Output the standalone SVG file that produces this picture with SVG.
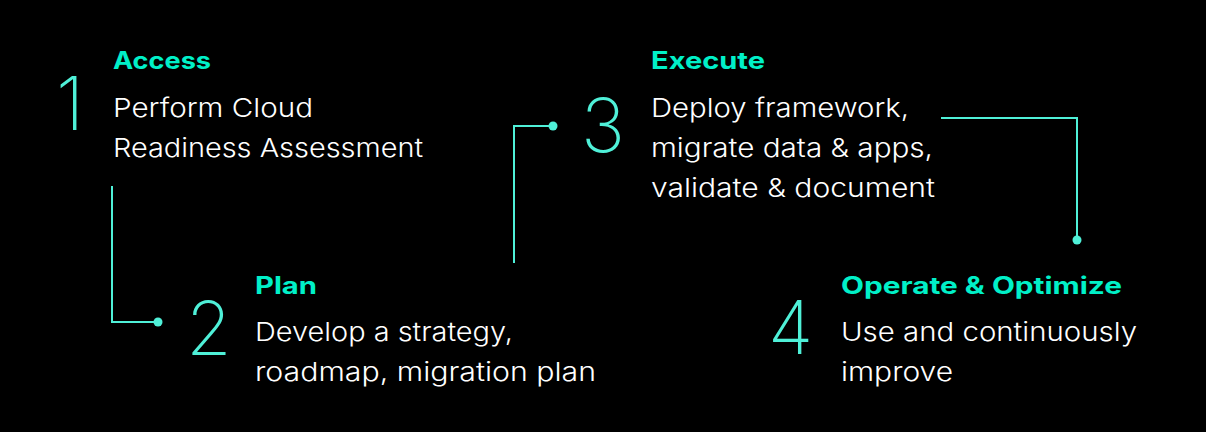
<svg xmlns="http://www.w3.org/2000/svg" width="1206" height="432" viewBox="0 0 1206 432">
<defs>
<style>
.num{font-family:Inter,"Noto Sans",sans-serif;font-weight:200;font-size:74px;fill:#4ff0d8}
.ttl{font-family:Inter,"Noto Sans",sans-serif;font-weight:700;font-size:24px;fill:#00f0c8}
.body{font-family:Inter,"Noto Sans",sans-serif;font-weight:300;font-size:26px;fill:#ffffff}
.ln{fill:none;stroke:#4ff0d8;stroke-width:2}
.dot{fill:#4ff0d8}
</style>
</defs>
<rect width="1206" height="432" fill="#000000"/>
<g id="connectors">
<polyline class="ln" points="112,186 112,322 158,322"/>
<circle class="dot" cx="158" cy="322" r="4.5"/>
<polyline class="ln" points="514,263 514,126 553,126"/>
<circle class="dot" cx="553" cy="126" r="4.5"/>
<polyline class="ln" points="941,118 1077,118 1077,240"/>
<circle class="dot" cx="1077" cy="240" r="4.5"/>
</g>
<g id="step1">
<text class="num" x="56" y="130">1</text>
<text class="ttl" x="113" y="69" textLength="98" lengthAdjust="spacingAndGlyphs">Access</text>
<text class="body" x="113" y="117" textLength="200" lengthAdjust="spacingAndGlyphs">Perform Cloud</text>
<text class="body" x="113" y="157" textLength="310" lengthAdjust="spacingAndGlyphs">Readiness Assessment</text>
</g>
<g id="step2">
<text class="num" x="186" y="355">2</text>
<text class="ttl" x="255" y="294" textLength="62" lengthAdjust="spacingAndGlyphs">Plan</text>
<text class="body" x="255" y="341" textLength="258" lengthAdjust="spacingAndGlyphs">Develop a strategy,</text>
<text class="body" x="255" y="381" textLength="341" lengthAdjust="spacingAndGlyphs">roadmap, migration plan</text>
</g>
<g id="step3">
<text class="num" x="581" y="152">3</text>
<text class="ttl" x="651" y="69" textLength="114" lengthAdjust="spacingAndGlyphs">Execute</text>
<text class="body" x="651" y="117" textLength="258" lengthAdjust="spacingAndGlyphs">Deploy framework,</text>
<text class="body" x="651" y="157" textLength="282" lengthAdjust="spacingAndGlyphs">migrate data &amp; apps,</text>
<text class="body" x="651" y="197" textLength="284" lengthAdjust="spacingAndGlyphs">validate &amp; document</text>
</g>
<g id="step4">
<text class="num" x="768" y="354">4</text>
<text class="ttl" x="841" y="294" textLength="281" lengthAdjust="spacingAndGlyphs">Operate &amp; Optimize</text>
<text class="body" x="841" y="341" textLength="296" lengthAdjust="spacingAndGlyphs">Use and continuously</text>
<text class="body" x="841" y="381" textLength="112" lengthAdjust="spacingAndGlyphs">improve</text>
</g>
</svg>
